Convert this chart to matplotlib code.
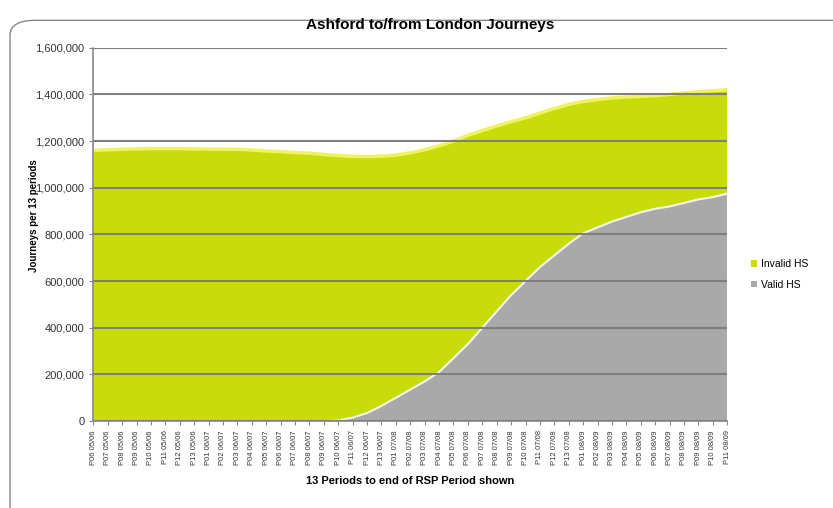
import matplotlib
matplotlib.use("Agg")
import matplotlib.pyplot as plt
from matplotlib.patches import FancyBboxPatch
import numpy as np

plt.rcParams['font.family'] = ['Liberation Sans', 'DejaVu Sans']

# 45 four-weekly periods (13 periods per year)
years = ["05/06", "06/07", "07/08", "08/09"]
periods = [f"P{p:02d} {y}" for y in years for p in range(1, 14)][5:50]

total_hs = [1160000, 1163000, 1165000, 1167000, 1168000, 1168000, 1168000, 1167000,
            1166000, 1165000, 1165000, 1162000, 1158000, 1155000, 1151000, 1148000,
            1143000, 1138000, 1135000, 1134000, 1135000, 1140000, 1150000, 1163000,
            1180000, 1200000, 1225000, 1245000, 1265000, 1283000, 1300000, 1320000,
            1340000, 1357000, 1370000, 1378000, 1385000, 1389000, 1392000, 1395000,
            1400000, 1406000, 1412000, 1416000, 1420000]
valid_hs = [0, 0, 0, 0, 0, 0, 0, 0, 0, 0, 0, 0, 0, 0, 0, 0, 0, 3000, 15000, 35000,
            65000, 100000, 135000, 170000, 210000, 270000, 330000, 400000, 470000,
            540000, 600000, 660000, 710000, 760000, 805000, 830000, 855000, 875000,
            895000, 910000, 920000, 935000, 950000, 960000, 975000]
invalid_hs = [t - v for t, v in zip(total_hs, valid_hs)]

green = "#c8dc0a"
grey = "#a9a9a9"

fig = plt.figure(figsize=(8.33, 5.08), dpi=100)
fig.patches.append(FancyBboxPatch((0.012, -0.05), 1.2, 1.01, boxstyle="round,pad=0,rounding_size=0.03",
                                  transform=fig.transFigure, facecolor="white", edgecolor="#888888",
                                  linewidth=1.0, zorder=-1))

ax = fig.add_axes([0.112, 0.171, 0.761, 0.735])
x = np.arange(len(periods))
ax.stackplot(x, valid_hs, invalid_hs, colors=[grey, green], labels=["Valid HS", "Invalid HS"],
             linewidth=0, zorder=1)
ax.plot(x, total_hs, color="#f0f360", linewidth=2.5, zorder=2)
ax.plot(x, valid_hs, color="#f4f4f4", linewidth=1.5, zorder=2)

ax.set_xlim(0, len(periods) - 1)
ax.set_ylim(0, 1600000)
ax.set_yticks(range(0, 1600001, 200000))
ax.set_yticklabels([f"{v:,}" for v in range(0, 1600001, 200000)], fontsize=8, color="#333333")
ax.yaxis.grid(True, color="#7f7f7f", linewidth=1.5, zorder=3)
ax.set_axisbelow(False)
ax.set_xticks(x)
ax.set_xticklabels(periods, rotation=90, fontsize=5.5, color="#333333")
ax.tick_params(axis="both", length=3, color="#888888")
for s in ["top", "right"]:
    ax.spines[s].set_visible(False)
for s in ["left", "bottom"]:
    ax.spines[s].set_color("#888888")
    ax.spines[s].set_linewidth(1.2)

ax.set_xlabel("13 Periods to end of RSP Period shown", fontsize=8, fontweight="bold", labelpad=8)
ax.set_ylabel("Journeys per 13 periods", fontsize=7, fontweight="bold")
ax.yaxis.set_label_coords(-0.085, 0.55)

fig.text(0.516, 0.95, "Ashford to/from London Journeys", ha="center", va="center",
         fontsize=11, fontweight="bold", fontstretch="condensed")

handles, labels = ax.get_legend_handles_labels()
fig.legend(handles[::-1], labels[::-1], loc="center left", bbox_to_anchor=(0.89, 0.46),
           frameon=False, fontsize=7.5, handlelength=0.6, handleheight=0.6, labelspacing=1.0,
           handletextpad=0.4)

plt.savefig("out.png", dpi=100)
